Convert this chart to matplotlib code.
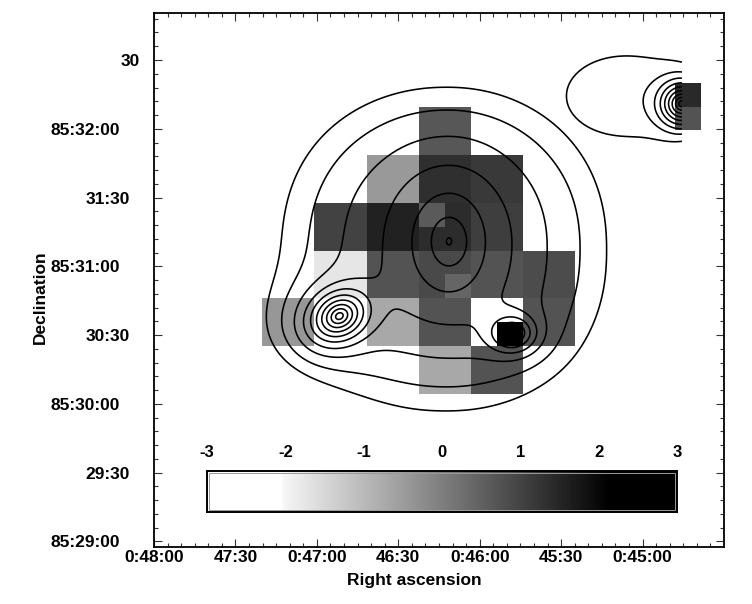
import numpy as np
import matplotlib
matplotlib.use("Agg")
import matplotlib.pyplot as plt
from matplotlib.colors import LinearSegmentedColormap, Normalize
from matplotlib.patches import Rectangle
import matplotlib.transforms as mtransforms

plt.rcParams['font.family'] = ['Liberation Sans', 'DejaVu Sans']
plt.rcParams['font.weight'] = 'bold'

# ---------------- axes (RA in seconds of time, Dec in arcsec above 85:29:00)
ra_lim = (2880, 2670)
dec_lim = (-2.4, 230.5)
ra_ticks = [2880, 2850, 2820, 2790, 2760, 2730, 2700]
ra_labels = ["0:48:00", "47:30", "0:47:00", "46:30", "0:46:00", "45:30", "0:45:00"]
dec_ticks = [0, 30, 60, 90, 120, 150, 180, 210]
dec_labels = ["85:29:00", "29:30", "85:30:00", "30:30", "85:31:00", "31:30", "85:32:00", "30"]

# ---------------- grey-scale map cells
cell_ra_edges = [2840.1, 2820.9, 2801.7, 2782.5, 2763.3, 2744.1, 2724.9]
cell_dec_edges = [189.6, 168.7, 147.8, 126.9, 106.0, 85.1, 64.2]
nan = np.nan
cell_values = [
    [nan, nan, nan, 0.66, nan, nan],
    [nan, nan, -0.43, 1.35, 1.18, nan],
    [nan, 1.01, 1.58, 1.40, 1.10, nan],
    [nan, -1.74, 0.73, 0.91, 0.73, 0.85],
    [-0.42, -2.5, -0.70, 0.73, -2.5, 0.73],
    [nan, nan, nan, -0.70, 0.73, nan],
]
# finer cells: RA left/right, Dec top/bottom, value
fine_ra0 = [2782.5, 2772.9, 2753.7, 2688.0, 2688.0]
fine_ra1 = [2772.9, 2763.3, 2744.1, 2678.6, 2678.6]
fine_dec0 = [147.8, 116.45, 95.55, 199.9, 189.7]
fine_dec1 = [137.35, 106.0, 85.1, 189.7, 179.4]
fine_val = [0.61, 0.44, 2.5, 1.44, 0.73]

# ---------------- contour model components
# extended emission: centre, amplitude, widths (arcsec), profile exponent, shape norm
ext_ra = [2773.1, 2818.8, 2706.5]
ext_dec = [127.0, 93.9, 194.3]
ext_amp = [3.0, 0.8, 1.3]
ext_sx = [50.4, 18.0, 35.0]
ext_sy = [49.1, 14.0, 24.0]
ext_pow = [2.4, 2.0, 2.0]
ext_shape = [2.25, 2.0, 2.0]
ext_group = [0, 0, 1]

# compact sources: centre, amplitude, exponential scale lengths (arcsec), PA
src_ra = [2771.3, 2811.7, 2748.1, 2685.5]
src_dec = [130.9, 98.3, 90.9, 190.9]
src_amp = [9.3, 52.0, 20.9, 36.4]
src_hmaj = [10.9, 4.6, 4.1, 3.35]
src_hmin = [15.2, 3.7, 3.3, 3.35]
src_pa = [0.0, 30.0, 0.0, 0.0]
src_group = [0, 0, 0, 1]

levels = [1.0, 1.5, 2.25, 3.375, 5.06, 7.59, 11.39, 17.09, 25.63, 38.44]
map_ra_edge = 2685.5

cbar_ticks = [-3, -2, -1, 0, 1, 2, 3]

# ---------------- colormap
cmap = LinearSegmentedColormap.from_list(
    "g", [(0.0, (1, 1, 1)), (0.155, (1, 1, 1)), (0.1667, (0.96, 0.96, 0.96)),
          (0.8583, (0, 0, 0)), (1.0, (0, 0, 0))])
norm = Normalize(-3, 3)

fig = plt.figure(figsize=(7.52, 6.04), dpi=100)
ax = fig.add_axes([154 / 752, 57 / 604, 570 / 752, 534 / 604])

vals = np.ma.masked_invalid(np.array(cell_values))
ax.pcolormesh(cell_ra_edges, cell_dec_edges, vals, cmap=cmap, norm=norm,
              shading='flat', zorder=1, edgecolors='none')
for a0, a1, d0, d1, v in zip(fine_ra0, fine_ra1, fine_dec0, fine_dec1, fine_val):
    ax.add_patch(Rectangle((a1, d1), a0 - a1, d0 - d1, facecolor=cmap(norm(v)),
                           edgecolor='none', zorder=1.5))

# contour field
kscale = 15 * np.cos(np.deg2rad(85.5))
ra_g = np.linspace(map_ra_edge, 2880, 700)
dec_g = np.linspace(dec_lim[0], dec_lim[1], 700)
RA, DEC = np.meshgrid(ra_g, dec_g)
fields = [np.zeros_like(RA), np.zeros_like(RA)]
for r0, d0, A, sx, sy, p, q, g in zip(ext_ra, ext_dec, ext_amp, ext_sx, ext_sy,
                                      ext_pow, ext_shape, ext_group):
    dx = (r0 - RA) * kscale
    dy = DEC - d0
    rr = (np.abs(dx / sx) ** q + np.abs(dy / sy) ** q) ** (1.0 / q)
    fields[g] += A * np.exp(-0.5 * rr ** p)
for r0, d0, A, hm, hn, pa, g in zip(src_ra, src_dec, src_amp, src_hmaj, src_hmin, src_pa, src_group):
    dx = (r0 - RA) * kscale
    dy = DEC - d0
    t = np.deg2rad(pa)
    a = dx * np.cos(t) + dy * np.sin(t)
    b = -dx * np.sin(t) + dy * np.cos(t)
    fields[g] += A * np.exp(-np.sqrt((a / hm) ** 2 + (b / hn) ** 2))
for f in fields:
    ax.contour(RA, DEC, f, levels=levels, colors='black', linewidths=1.15, zorder=3)

ax.set_xlim(*ra_lim)
ax.set_ylim(*dec_lim)
ax.set_xticks(ra_ticks, ra_labels)
ax.set_yticks(dec_ticks, dec_labels)
ax.set_xticks(np.arange(2675, 2881, 5), minor=True)
ax.set_yticks(np.arange(0, 231, 6), minor=True)
ax.tick_params(which='both', direction='in', top=True, right=True, width=0.8, color='#333333')
ax.tick_params(which='major', length=5.5, labelsize=12.5)
ax.tick_params(which='minor', length=2.8)
ax.tick_params(axis='x', pad=2)
ax.tick_params(axis='y', pad=10)
for sp in ax.spines.values():
    sp.set_linewidth(1.3)
for lbl, txt in zip(ax.get_yticklabels(), dec_labels):
    shift = {2: 0, 5: -10, 8: -20}[len(txt)]
    lbl.set_transform(lbl.get_transform() +
                      mtransforms.ScaledTranslation(shift / 100, 0, fig.dpi_scale_trans))
    lbl.set_fontweight('bold')
for lbl in ax.get_xticklabels():
    lbl.set_fontweight('bold')

fig.text(414 / 752, 1 - 580 / 604, "Right ascension", ha='center', va='center',
         fontsize=12.5, fontweight='bold')
fig.text(40 / 752, 1 - 297 / 604, "Declination", ha='center', va='center',
         rotation=90, fontsize=12.5, fontweight='bold')

# colour bar inside the plot
cax = fig.add_axes([207 / 752, (604 - 512) / 604, 470 / 752, 41 / 604])
grad = np.linspace(-3, 3, 512)[None, :]
cax.imshow(grad, cmap=cmap, norm=norm, extent=(-3, 3, 0, 1), aspect='auto')
cax.set_xlim(-3, 3)
cax.set_ylim(0, 1)
cax.set_yticks([])
cax.set_xticks(cbar_ticks, [str(t) for t in cbar_ticks])
cax.xaxis.set_ticks_position('top')
cax.tick_params(axis='x', length=0, pad=8, labelsize=12)
for lbl in cax.get_xticklabels():
    lbl.set_fontweight('bold')
for sp in cax.spines.values():
    sp.set_linewidth(1.4)
cax.add_patch(Rectangle((0.004, 0.04), 0.992, 0.92, transform=cax.transAxes,
                        fill=False, edgecolor='#9a9a9a', linewidth=0.7))

fig.savefig("out.png", dpi=100, facecolor='white')
